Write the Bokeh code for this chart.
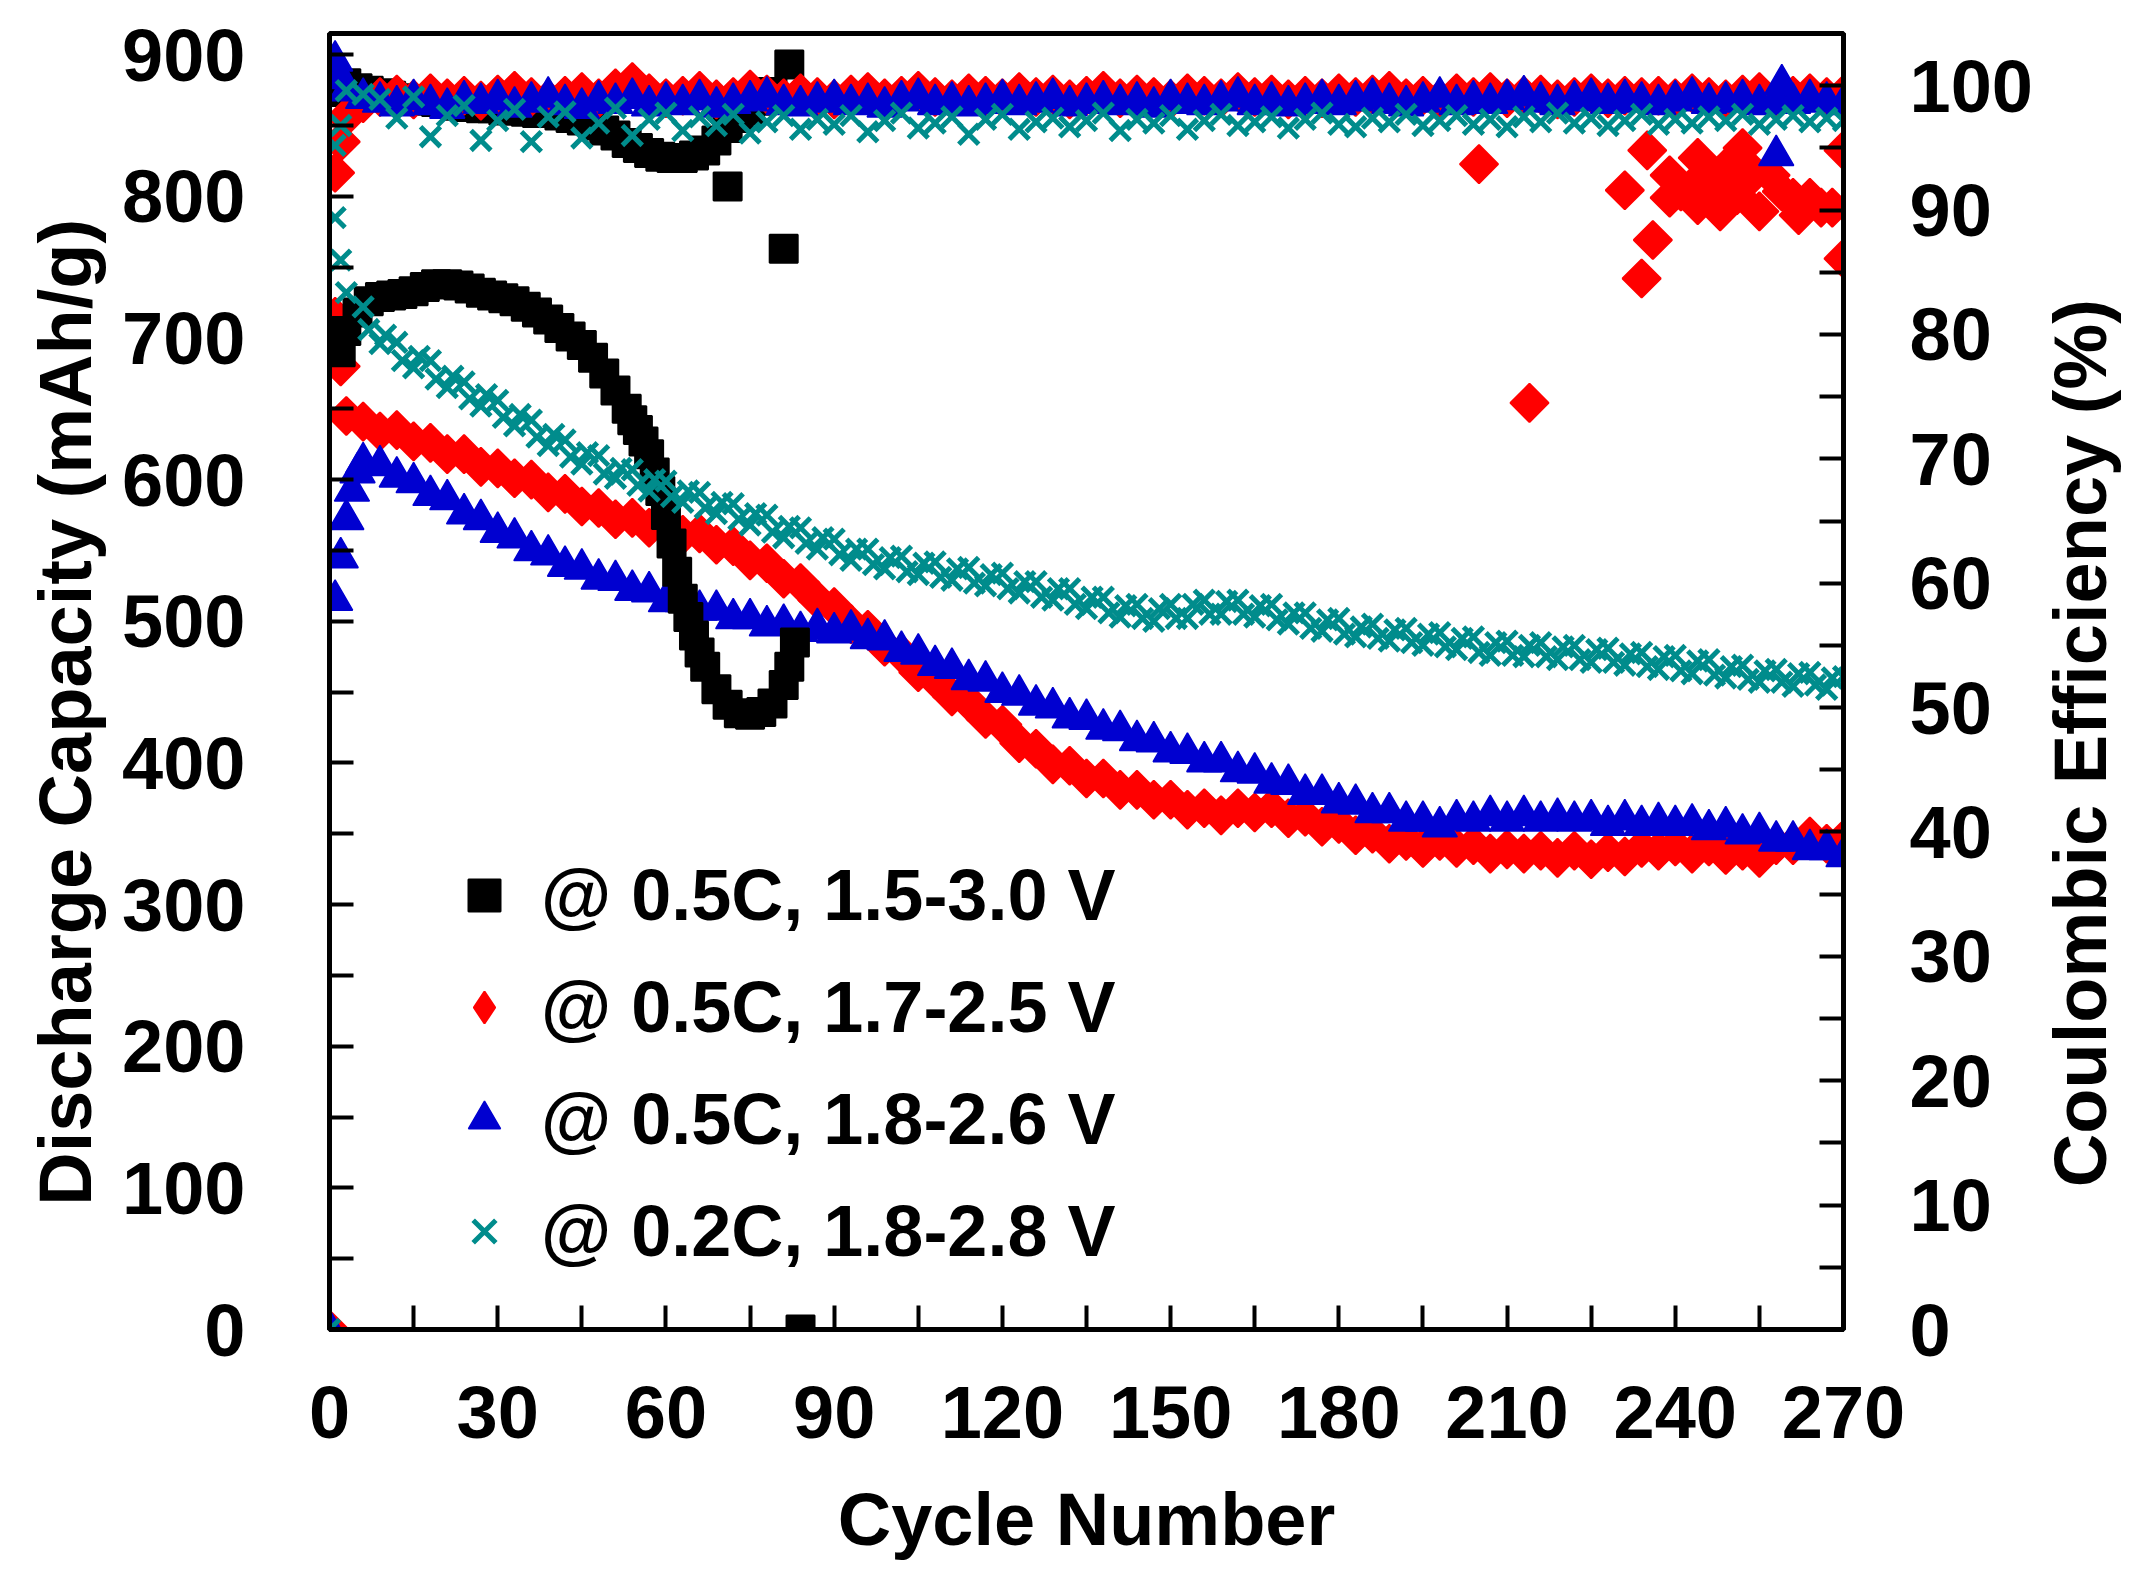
from bokeh.plotting import figure
from bokeh.layouts import row
from bokeh.models import (ColumnDataSource, Range1d, LinearAxis, FixedTicker,
                          Legend, LegendItem)
from bokeh.embed import file_html
from bokeh.resources import INLINE

# ---------------- data ----------------
x_ticks = [0, 30, 60, 90, 120, 150, 180, 210, 240, 270]
x_minor = [15, 45, 75, 105, 135, 165, 195, 225, 255]
cap_ticks = [0, 100, 200, 300, 400, 500, 600, 700, 800, 900]
cap_minor = [50, 150, 250, 350, 450, 550, 650, 750, 850]
ce_ticks = [0, 10, 20, 30, 40, 50, 60, 70, 80, 90, 100]
ce_minor = [5, 15, 25, 35, 45, 55, 65, 75, 85, 95]

x_title = "Cycle Number"
left_title = "Discharge Capacity (mAh/g)"
right_title = "Coulombic Efficiency (%)"
series_labels = ["@ 0.5C, 1.5-3.0 V", "@ 0.5C, 1.7-2.5 V",
                 "@ 0.5C, 1.8-2.6 V", "@ 0.2C, 1.8-2.8 V"]

# black: 0.5C, 1.5-3.0 V
black_cap_cycles = [1, 2, 3, 5, 7, 9, 11, 13, 15, 17, 19, 21, 23, 25, 27, 29, 31,
                    33, 35, 37, 39, 41, 43, 45, 47, 49, 51, 53, 54, 55, 56, 57, 58,
                    59, 60, 61, 62, 63, 64, 65, 66, 67, 69, 71, 73, 75, 77, 79, 81,
                    82, 83, 84]
black_cap = [700, 690, 705, 718, 726, 729, 730, 731, 733, 736, 738, 738, 737, 735,
             732, 730, 728, 726, 722, 718, 713, 707, 701, 695, 686, 675, 663, 650,
             642, 635, 627, 618, 605, 592, 575, 555, 535, 516, 503, 490, 478, 468,
             452, 441, 435, 434, 436, 442, 455, 468, 485, 0]
black_ce_cycles = [1, 3, 5, 7, 9, 11, 13, 15, 17, 19, 21, 23, 25, 27, 29, 31, 33,
                   35, 37, 39, 41, 43, 45, 47, 49, 51, 53, 55, 57, 59, 61, 63, 65,
                   67, 69, 71, 73, 75, 77, 79, 71, 81, 82]
black_ce = [99.5, 100.2, 99.8, 99.6, 99.4, 99.2, 99.0, 98.8, 98.9, 98.7,
            98.6, 98.4, 98.3, 98.2, 98.2, 98.0, 98.0, 97.9, 97.8, 97.8,
            97.6, 97.4, 97.2, 96.8, 96.4, 96.0, 95.4, 95.0, 94.6, 94.3,
            94.2, 94.2, 94.4, 94.8, 95.6, 96.6, 97.4, 98.0, 98.8, 99.5,
            91.9, 86.9, 101.7]

# red: 0.5C, 1.7-2.5 V  (cycles 3, 6, ..., 270)
red_cap_early_cycles = [0, 1, 2]
red_cap_early = [0, 715, 680]
red_cap = [645, 641, 634, 635, 627, 626, 618, 618, 609, 608,
           601, 600, 591, 590, 581, 580, 572, 573, 566, 568,
           561, 562, 554, 553, 543, 541, 530, 527, 515, 510,
           498, 494, 482, 477, 464, 459, 447, 443, 431, 427,
           414, 410, 399, 398, 389, 389, 381, 381, 374, 374,
           367, 368, 363, 368, 365, 368, 361, 362, 355, 357,
           349, 350, 343, 345, 340, 345, 340, 342, 336, 339,
           336, 338, 333, 338, 332, 337, 334, 340, 338, 341,
           336, 341, 335, 338, 333, 342, 342, 348, 343, 346]
red_ce = [97.5, 98.6, 99.1, 99.3, 98.9, 99.4, 99.0, 99.2, 98.8, 99.3,
          99.6, 99.1, 98.9, 99.2, 99.5, 99.0, 99.8, 100.3, 99.4, 99.0,
          99.2, 99.6, 98.9, 99.1, 99.7, 99.3, 99.0, 99.4, 99.1, 98.9,
          99.3, 99.5, 99.0, 99.2, 99.6, 99.1, 98.9, 99.4, 99.2, 99.0,
          99.5, 99.1, 99.3, 98.9, 99.2, 99.6, 99.0, 99.3, 99.1, 98.9,
          99.4, 99.2, 99.0, 99.5, 99.1, 99.3, 98.9, 99.2, 99.0, 99.4,
          99.1, 99.3, 99.6, 99.0, 99.2, 98.9, 99.4, 99.1, 99.5, 99.0,
          99.2, 99.3, 98.9, 99.1, 99.4, 99.0, 99.2, 99.1, 99.2, 99.0,
          99.4, 99.1, 98.9, 99.3, 99.5, 99.0, 99.2, 99.4, 99.1, 99.3]
red_ce_extra_cycles = [1, 2, 205, 214, 231, 234, 235, 236, 239, 239, 241, 244, 245,
                       244, 247, 249, 248, 251, 252, 252, 254, 255, 257, 259, 261,
                       262, 264, 266, 268, 270, 270]
red_ce_extra = [93.0, 95.5, 93.7, 74.5, 91.6, 84.5, 94.8, 87.6, 92.8, 91.0, 91.5,
                94.2, 92.8, 90.4, 91.8, 93.4, 89.9, 91.2, 92.0, 95.0, 93.0, 89.9,
                92.8, 91.5, 91.0, 89.6, 91.0, 90.2, 90.2, 94.8, 86.1]

# blue: 0.5C, 1.8-2.6 V  (main cycles 9, 12, ..., 270)
blue_cap_early_cycles = [0, 1, 2, 3, 4, 5, 6]
blue_cap_early = [0, 515, 545, 572, 592, 605, 612]
blue_cap = [610, 602, 598, 589, 586, 576, 572, 563, 559, 550,
            547, 539, 537, 530, 529, 522, 521, 514, 514, 508,
            508, 502, 502, 497, 498, 493, 495, 492, 494, 488,
            487, 479, 477, 469, 467, 459, 458, 450, 448, 441,
            439, 432, 431, 424, 423, 416, 415, 408, 407, 401,
            401, 394, 393, 386, 385, 378, 378, 372, 371, 365,
            365, 359, 359, 355, 360, 359, 363, 359, 363, 359,
            361, 359, 360, 356, 360, 356, 358, 356, 357, 353,
            355, 350, 351, 345, 345, 339, 339, 334]
blue_ce = [99.6, 99.0, 98.7, 98.4, 98.9, 98.5, 98.2, 98.8, 98.6, 98.9,
           98.3, 98.7, 99.1, 98.5, 98.2, 98.8, 98.6, 99.0, 98.4, 98.7,
           98.5, 98.9, 98.3, 98.6, 98.8, 99.1, 98.5, 98.4, 98.7, 98.9,
           98.5, 98.6, 98.3, 98.8, 99.0, 98.5, 98.7, 98.4, 98.6, 98.9,
           98.5, 98.7, 99.0, 98.4, 98.6, 98.8, 98.5, 98.7, 98.3, 98.9,
           98.6, 98.5, 98.8, 99.1, 98.5, 98.7, 98.4, 98.6, 98.9, 98.5,
           98.8, 99.0, 98.6, 98.4, 98.7, 99.1, 98.5, 98.8, 98.6, 98.9,
           99.2, 98.7, 98.5, 98.8, 99.0, 98.6, 98.9, 98.7, 98.5, 98.8,
           99.1, 98.6, 98.7, 98.9, 98.5, 98.8, 98.6, 98.9, 98.7, 98.5]
blue_ce_extra_cycles = [1, 2, 258, 259]
blue_ce_extra = [102.0, 100.6, 94.4, 100.1]

# teal: 0.2C, 1.8-2.8 V  (main cycles 6, 9, ..., 270 and 7, 10, ..., 268)
teal_cap_early_cycles = [0, 1, 2, 3]
teal_cap_early = [0, 785, 755, 732]
teal_cap = [722, 696, 697, 679, 684, 665, 669, 652, 656, 638,
            642, 624, 628, 611, 617, 601, 607, 592, 599, 584,
            591, 576, 583, 568, 575, 559, 566, 551, 558, 543,
            551, 537, 546, 533, 542, 529, 538, 525, 534, 520,
            528, 515, 523, 509, 517, 503, 512, 500, 512, 502,
            515, 505, 515, 503, 512, 498, 506, 493, 502, 489,
            498, 486, 495, 483, 492, 480, 489, 476, 486, 475,
            485, 473, 483, 471, 481, 469, 478, 466, 476, 463,
            473, 460, 469, 457, 466, 454, 464, 452, 461]
teal_cap_b = [706, 702, 684, 687, 671, 673, 657, 660, 644, 646,
              630, 632, 616, 619, 604, 608, 596, 600, 588, 592,
              580, 584, 572, 576, 563, 567, 555, 559, 547, 551,
              540, 545, 535, 541, 531, 537, 527, 533, 523, 528,
              517, 523, 512, 517, 506, 511, 502, 509, 502, 512,
              505, 514, 505, 511, 501, 506, 495, 501, 491, 496,
              488, 494, 485, 491, 482, 488, 478, 485, 476, 483,
              475, 482, 473, 480, 471, 477, 468, 475, 465, 472,
              462, 468, 459, 465, 457, 463, 455, 460]
teal_ce = [99.6, 99.3, 98.9, 97.4, 99.1, 95.9, 97.6, 98.4, 95.6, 97.2,
           98.1, 95.5, 97.5, 97.9, 95.8, 97.0, 98.2, 96.0, 97.3, 97.8,
           96.4, 97.5, 96.8, 97.7, 96.2, 97.1, 97.6, 96.5, 97.3, 96.9,
           97.6, 96.3, 97.2, 97.8, 96.6, 97.0, 97.5, 96.1, 97.3, 97.7,
           96.5, 97.1, 97.4, 96.7, 97.2, 97.8, 96.4, 97.3, 97.0, 97.6,
           96.5, 97.2, 97.7, 96.8, 97.1, 97.5, 96.6, 97.3, 97.8, 96.9,
           96.7, 97.4, 97.1, 97.7, 96.8, 97.2, 97.6, 96.9, 97.3, 96.7,
           97.5, 97.1, 97.8, 97.0, 97.4, 96.8, 97.2, 97.7, 96.9, 97.3,
           97.0, 97.5, 97.2, 97.7, 96.9, 97.3, 97.6, 97.1, 97.4, 97.2]
teal_ce_extra_cycles = [1, 2]
teal_ce_extra = [95.2, 96.8]

# ---------------- figure ----------------
FONT = "Liberation Sans"
BLACK, RED, BLUE, TEAL = "#000000", "#FF0000", "#0000D0", "#008C8C"
NBSP = "\u00a0"
TOP, BOTTOM, H = 33, 245, 1574

p = figure(width=2035, height=H, x_range=Range1d(0, 270), y_range=Range1d(0, 915),
           output_backend="svg", toolbar_location=None,
           min_border_left=329, min_border_right=190, min_border_top=TOP,
           min_border_bottom=BOTTOM)
p.extra_y_ranges = {"ce": Range1d(0, 104.2)}
p.grid.visible = False
p.outline_line_color = "black"
p.outline_line_width = 5
p.background_fill_color = "white"
p.border_fill_color = "white"


def style_axis(ax, standoff):
    ax.axis_line_width = 5
    ax.axis_line_color = "black"
    ax.major_tick_in = 24
    ax.major_tick_out = 0
    ax.minor_tick_in = 24
    ax.minor_tick_out = 0
    ax.major_tick_line_width = 4
    ax.minor_tick_line_width = 4
    ax.major_label_text_font = FONT
    ax.major_label_text_font_style = "bold"
    ax.major_label_text_font_size = "74px"
    ax.major_label_text_color = "black"
    ax.major_label_standoff = standoff
    ax.axis_label_text_font = FONT
    ax.axis_label_text_font_style = "bold"
    ax.axis_label_text_font_size = "74px"
    ax.axis_label_text_color = "black"


xax = p.xaxis[0]
xax.ticker = FixedTicker(ticks=x_ticks, minor_ticks=x_minor)
style_axis(xax, 56)
xax.axis_label = x_title
xax.axis_label_standoff = 37

yax = p.yaxis[0]
yax.ticker = FixedTicker(ticks=cap_ticks, minor_ticks=cap_minor)
style_axis(yax, 84)
yax.axis_label = left_title + NBSP * 3
yax.axis_label_standoff = 12

rax = LinearAxis(y_range_name="ce", ticker=FixedTicker(ticks=ce_ticks, minor_ticks=ce_minor))
style_axis(rax, 66)
p.add_layout(rax, "right")


def cyc(start, n):
    return list(range(start, start + 3 * n, 3))


def make_src(x, y):
    return ColumnDataSource(dict(x=x, y=y))


def pts(marker, color, size, src, rng=None, lw=1.0, angle=0.0, visible=True):
    kw = {}
    if rng:
        kw["y_range_name"] = rng
    if marker == "x":
        return p.scatter("x", "y", source=src, marker="x", size=size,
                         line_color=color, line_width=lw, visible=visible, **kw)
    return p.scatter("x", "y", source=src, marker=marker, size=size, angle=angle,
                     angle_units="deg", fill_color=color, line_color=color,
                     line_width=lw, visible=visible, **kw)


SQ, DM, TR, XS = 28, 27, 35, 28

red_src = make_src(red_cap_early_cycles + cyc(3, len(red_cap)), red_cap_early + red_cap)
blue_src = make_src(blue_cap_early_cycles + cyc(9, len(blue_cap)), blue_cap_early + blue_cap)
black_src = make_src(black_cap_cycles, black_cap)
teal_src = make_src(teal_cap_early_cycles + cyc(6, len(teal_cap)) + cyc(7, len(teal_cap_b)),
                    teal_cap_early + teal_cap + teal_cap_b)

# capacity (left axis)
r_red = pts("square", RED, DM, red_src, lw=2, angle=45)
r_blue = pts("triangle", BLUE, TR, blue_src, lw=1.5)
r_black = pts("square", BLACK, SQ, black_src, lw=2)
r_teal = pts("x", TEAL, XS, teal_src, lw=5)

# coulombic efficiency (right axis)
pts("square", BLACK, SQ, make_src(black_ce_cycles, black_ce), rng="ce", lw=2)
pts("square", RED, DM, make_src(cyc(3, len(red_ce)) + red_ce_extra_cycles,
                                red_ce + red_ce_extra), rng="ce", lw=2, angle=45)
pts("triangle", BLUE, TR, make_src(cyc(3, len(blue_ce)) + blue_ce_extra_cycles,
                                   blue_ce + blue_ce_extra), rng="ce", lw=1.5)
pts("x", TEAL, XS, make_src(cyc(3, len(teal_ce)) + teal_ce_extra_cycles,
                            teal_ce + teal_ce_extra), rng="ce", lw=5)

# legend key for the red series (diamond symbol), not drawn in the plot area
r_red_key = pts("diamond", RED, DM, red_src, lw=2, visible=False)

legend = Legend(items=[LegendItem(label=series_labels[0], renderers=[r_black]),
                       LegendItem(label=series_labels[1], renderers=[r_red_key]),
                       LegendItem(label=series_labels[2], renderers=[r_blue]),
                       LegendItem(label=series_labels[3], renderers=[r_teal])],
                location=(115, 57), glyph_width=80, glyph_height=80,
                label_standoff=17, spacing=30, padding=0, margin=0,
                border_line_color=None, background_fill_alpha=0,
                inactive_fill_alpha=0,
                label_text_font=FONT, label_text_font_style="bold",
                label_text_font_size="72px", label_text_color="black")
p.add_layout(legend)

# narrow strip on the right carrying the right-hand axis title (reads bottom-to-top)
p2 = figure(width=88, height=H, x_range=Range1d(0, 1), y_range=Range1d(0, 1),
            output_backend="svg", toolbar_location=None,
            min_border_left=83, min_border_right=0, min_border_top=TOP,
            min_border_bottom=BOTTOM)
p2.grid.visible = False
p2.outline_line_color = None
p2.background_fill_color = "white"
p2.border_fill_color = "white"
p2.xaxis.visible = False
ay = p2.yaxis[0]
ay.ticker = FixedTicker(ticks=[])
ay.axis_line_color = None
ay.major_tick_line_color = None
ay.minor_tick_line_color = None
ay.major_label_text_font_size = "0px"
ay.axis_label = right_title + NBSP * 6
ay.axis_label_standoff = 0
ay.axis_label_text_font = FONT
ay.axis_label_text_font_style = "bold"
ay.axis_label_text_font_size = "74px"
ay.axis_label_text_color = "black"

layout = row(p, p2)
open("out.html", "w").write(file_html(layout, INLINE))
